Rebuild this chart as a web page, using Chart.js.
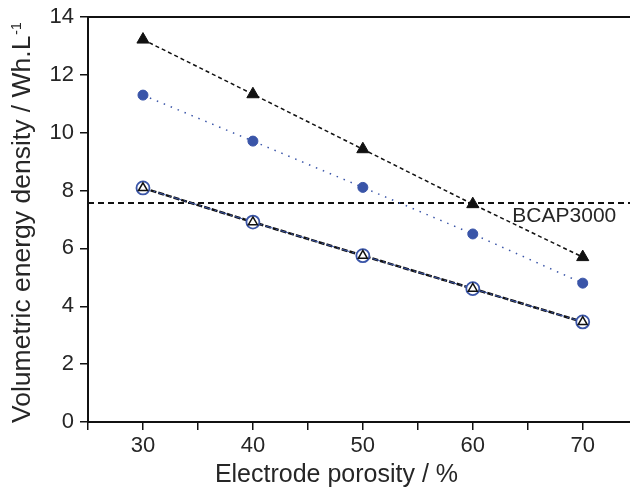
<!DOCTYPE html>
<html>
<head>
<meta charset="utf-8">
<script src="https://cdn.jsdelivr.net/npm/chart.js@4"></script>
<style>
  html, body { margin: 0; padding: 0; background: #fff; }
  #wrap { width: 630px; height: 493px; }
</style>
</head>
<body>
<div id="wrap"><canvas id="porosityChart" width="630" height="493"></canvas></div>
<script>
// values
const porosity = [30, 40, 50, 60, 70];
const filledTriangle = [13.22, 11.33, 9.43, 7.53, 5.70];
const filledCircle = [11.30, 9.71, 8.11, 6.50, 4.80];
const openCircle = [8.09, 6.91, 5.75, 4.61, 3.46];
const openTriangle = [8.09, 6.91, 5.75, 4.61, 3.46];
const bcapLevel = 7.57;
const bcapLabel = 'BCAP3000';
const xTicks = [25, 30, 35, 40, 45, 50, 55, 60, 65, 70];
const yTicks = [0, 1, 2, 3, 4, 5, 6, 7, 8, 9, 10, 11, 12, 13, 14];
const xTitle = 'Electrode porosity / %';
const yTitle = 'Volumetric energy density / Wh.L';
const yTitleSup = '-1';

const FONT = '"Liberation Sans", Arial, sans-serif';
Chart.defaults.font.family = FONT;
Chart.defaults.color = '#262626';

const blue = '#3a55a8';
const ink = '#111';
const toPoints = (ys) => porosity.map((x, i) => ({ x: x, y: ys[i] }));

// frame top line, axis titles (with superscript) and the BCAP3000 note
const decorPlugin = {
    id: 'decor',
    afterDatasetsDraw(chart) {
        const { ctx, scales, chartArea } = chart;
        ctx.save();
        ctx.strokeStyle = ink;
        ctx.lineWidth = 2;
        ctx.beginPath();
        ctx.moveTo(chartArea.left - 1, chartArea.top);
        ctx.lineTo(chartArea.right, chartArea.top);
        ctx.stroke();

        ctx.fillStyle = '#262626';
        ctx.font = '21px ' + FONT;
        ctx.textBaseline = 'middle';
        ctx.fillText(bcapLabel, scales.x.getPixelForValue(63.6), scales.y.getPixelForValue(7.12));

        ctx.font = '25px ' + FONT;
        ctx.textAlign = 'center';
        ctx.textBaseline = 'alphabetic';
        ctx.fillText(xTitle, scales.x.getPixelForValue(47.6), 482);

        ctx.translate(30, 423);
        ctx.rotate(-Math.PI / 2);
        ctx.textAlign = 'left';
        ctx.font = '26.5px ' + FONT;
        ctx.fillText(yTitle, 0, 0);
        const w = ctx.measureText(yTitle).width;
        ctx.font = '14px ' + FONT;
        ctx.fillText(yTitleSup, w + 1, -9);
        ctx.restore();
    }
};

const ctx = document.getElementById('porosityChart');
new Chart(ctx, {
    type: 'scatter',
    data: {
        datasets: [
            {
                data: [{ x: 25, y: bcapLevel }, { x: 74.3, y: bcapLevel }],
                showLine: true,
                borderColor: ink,
                borderWidth: 2,
                borderDash: [6, 4],
                pointRadius: 0,
                order: 10
            },
            {
                data: toPoints(openTriangle),
                showLine: true,
                borderColor: ink,
                borderWidth: 2.5,
                borderDash: [6, 2],
                pointRadius: 0,
                order: 6
            },
            {
                data: toPoints(openCircle),
                showLine: true,
                borderColor: blue,
                borderWidth: 1,
                borderDash: [8, 3, 2, 3],
                pointStyle: 'circle',
                pointRadius: 6.5,
                pointBorderWidth: 1.8,
                backgroundColor: '#fff',
                pointBorderColor: blue,
                order: 5
            },
            {
                data: toPoints(openTriangle),
                showLine: false,
                pointStyle: 'triangle',
                pointRadius: 5.2,
                pointBorderWidth: 1.5,
                backgroundColor: '#fff',
                pointBorderColor: ink,
                order: 4
            },
            {
                data: toPoints(filledCircle),
                showLine: true,
                borderColor: blue,
                borderWidth: 1.5,
                borderDash: [1.5, 6],
                pointStyle: 'circle',
                pointRadius: 5,
                pointBorderWidth: 1,
                backgroundColor: blue,
                pointBorderColor: blue,
                order: 3
            },
            {
                data: toPoints(filledTriangle),
                showLine: true,
                borderColor: ink,
                borderWidth: 1.5,
                borderDash: [4, 3],
                pointStyle: 'triangle',
                pointRadius: 7,
                pointBorderWidth: 1,
                backgroundColor: ink,
                pointBorderColor: ink,
                order: 2
            }
        ]
    },
    options: {
        responsive: false,
        animation: false,
        layout: { autoPadding: false, padding: { top: 17, right: 0, left: 0, bottom: 0 } },
        plugins: {
            legend: { display: false },
            tooltip: { enabled: false }
        },
        scales: {
            x: {
                type: 'linear',
                min: 25,
                max: 74.3,
                afterBuildTicks: (axis) => { axis.ticks = xTicks.map(v => ({ value: v })); },
                afterFit: (axis) => { axis.height = 71; axis.paddingLeft = 0; axis.paddingRight = 0; },
                border: { color: ink, width: 2 },
                grid: { drawOnChartArea: false, drawTicks: true, tickLength: 8, color: ink, lineWidth: 1.5 },
                ticks: {
                    font: { size: 22 },
                    color: '#262626',
                    padding: 3,
                    maxRotation: 0,
                    callback: (v) => (v % 10 === 0 ? v : '')
                },
                title: { display: false }
            },
            y: {
                type: 'linear',
                min: 0,
                max: 14,
                afterBuildTicks: (axis) => { axis.ticks = yTicks.map(v => ({ value: v })); },
                afterFit: (axis) => { axis.width = 88; axis.paddingTop = 0; axis.paddingBottom = 0; },
                border: { color: ink, width: 2 },
                grid: { drawOnChartArea: false, drawTicks: true, tickLength: 8, color: ink, lineWidth: 1.5 },
                ticks: {
                    font: { size: 22 },
                    color: '#262626',
                    padding: 6,
                    callback: (v) => (v % 2 === 0 ? v : '')
                },
                title: { display: false }
            }
        }
    },
    plugins: [decorPlugin]
});
</script>
</body>
</html>
